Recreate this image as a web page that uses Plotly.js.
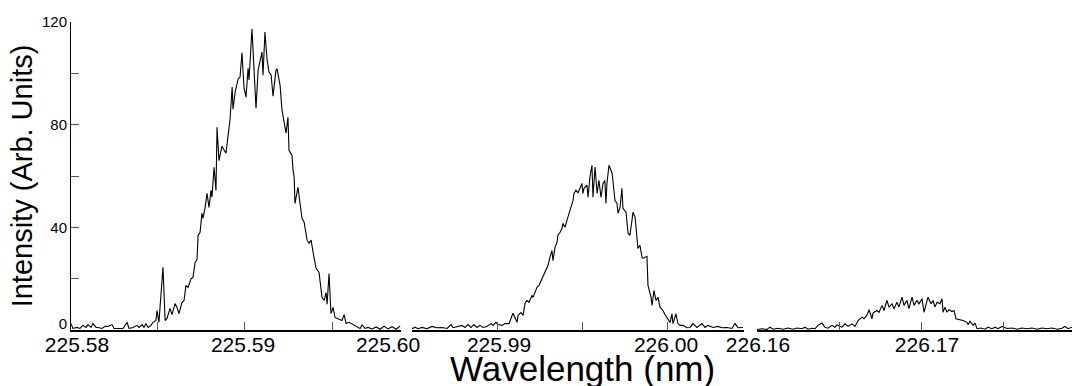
<!DOCTYPE html>
<html>
<head>
<meta charset="utf-8">
<script src="https://cdn.plot.ly/plotly-3.0.1.min.js"></script>
<style>html,body{margin:0;padding:0;background:#fff;}#chart{width:1073px;height:386px;}</style>
</head>
<body>
<div id="chart"></div>
<script>
// ---- Data (wavelength in nm, intensity in arb. units) ----
const wl1 = [225.58010,225.58021,225.58044,225.58061,225.58078,225.58096,225.58107,225.58124,225.58135,225.58153,
225.58164,225.58187,225.58204,225.58221,225.58244,225.58255,225.58278,225.58306,225.58329,225.58341,
225.58363,225.58386,225.58398,225.58415,225.58426,225.58437,225.58449,225.58466,225.58477,225.58494,
225.58500,225.58511,225.58534,225.58546,225.58557,225.58574,225.58585,225.58603,225.58614,225.58625,
225.58642,225.58654,225.58665,225.58677,225.58694,225.58705,225.58717,225.58728,225.58734,225.58745,
225.58756,225.58762,225.58774,225.58785,225.58796,225.58808,225.58813,225.58825,225.58836,225.58842,
225.58853,225.58870,225.58893,225.58905,225.58916,225.58928,225.58933,225.58945,225.58962,225.58973,
225.58984,225.58996,225.59007,225.59019,225.59024,225.59041,225.59064,225.59076,225.59098,225.59104,
225.59115,225.59127,225.59138,225.59150,225.59161,225.59178,225.59184,225.59201,225.59212,225.59235,
225.59246,225.59252,225.59269,225.59275,225.59281,225.59286,225.59303,225.59315,225.59326,225.59338,
225.59355,225.59366,225.59378,225.59389,225.59406,225.59423,225.59440,225.59452,225.59463,225.59469,
225.59480,225.59491,225.59503,225.59514,225.59531,225.59554,225.59566,225.59577,225.59594,225.59617,
225.59640,225.59657,225.59668,225.59685,225.59702,225.59725,225.59748,225.59771,225.59793,225.59816,
225.59839,225.59862,225.59885];
const int1 = [2.5,0.6,1.0,0.6,1.8,1.0,2.1,1.0,2.5,1.0,
1.0,0.6,1.4,1.4,2.1,0.6,0.6,0.6,3.0,0.6,
1.0,1.8,1.0,2.1,1.0,2.5,1.0,1.8,3.0,3.7,
7.6,3.0,24.4,3.7,4.5,8.4,6.0,10.3,8.8,6.4,
10.7,11.5,17.4,16.6,20.0,20.5,26.3,27.5,36.9,38.0,
45.5,43.5,47.8,53.3,47.8,54.4,51.7,63.4,54.4,79.0,
66.0,71.6,68.9,75.0,82.0,94.7,86.0,92.7,97.8,98.6,
108.0,94.2,90.7,102.0,97.4,117.3,86.4,101.3,108.3,99.3,
116.1,105.2,100.5,99.4,91.1,101.3,101.7,95.4,85.7,76.7,
82.9,70.0,68.0,62.3,59.9,49.3,55.6,49.3,43.5,42.0,
35.0,33.8,35.0,30.3,24.0,22.4,12.7,11.5,14.6,10.0,
22.0,6.4,8.8,4.9,4.5,3.7,6.0,2.5,3.0,2.2,
1.4,0.6,2.0,0.6,1.0,0.4,1.2,0.3,1.5,0.4,
1.3,0.3,1.6];

const wl2 = [225.98500,225.98518,225.98535,225.98559,225.98588,225.98617,225.98647,225.98676,225.98706,225.98729,
225.98741,225.98770,225.98794,225.98811,225.98829,225.98847,225.98864,225.98882,225.98899,225.98917,
225.98940,225.98964,225.98976,225.98993,225.99005,225.99029,225.99046,225.99070,225.99093,225.99117,
225.99123,225.99140,225.99152,225.99164,225.99175,225.99187,225.99205,225.99211,225.99234,225.99246,
225.99263,225.99275,225.99293,225.99299,225.99310,225.99322,225.99328,225.99340,225.99352,225.99357,
225.99369,225.99381,225.99387,225.99399,225.99410,225.99416,225.99428,225.99440,225.99446,225.99451,
225.99463,225.99475,225.99487,225.99498,225.99504,225.99510,225.99516,225.99528,225.99534,225.99545,
225.99557,225.99563,225.99575,225.99587,225.99598,225.99610,225.99622,225.99633,225.99639,225.99645,
225.99657,225.99675,225.99680,225.99692,225.99704,225.99710,225.99722,225.99733,225.99739,225.99757,
225.99769,225.99780,225.99792,225.99798,225.99810,225.99821,225.99827,225.99839,225.99851,225.99857,
225.99880,225.99886,225.99904,225.99910,225.99921,225.99933,225.99945,225.99957,225.99974,225.99986,
225.99998,226.00015,226.00027,226.00033,226.00050,226.00062,226.00074,226.00092,226.00115,226.00133,
226.00150,226.00174,226.00203,226.00221,226.00238,226.00268,226.00297,226.00321,226.00350,226.00379,
226.00397,226.00415,226.00444];
const int2 = [0.5,1.1,0.5,1.0,0.5,1.4,0.9,1.0,0.6,2.1,
0.9,1.4,1.8,1.0,2.1,1.0,2.1,1.0,1.8,1.0,
1.4,2.5,1.8,3.0,2.1,1.8,2.5,2.5,6.5,3.0,
5.7,6.8,5.7,10.4,11.5,10.8,13.5,12.7,16.6,17.4,
20.0,22.0,24.5,25.2,28.3,31.0,27.0,32.2,34.2,36.9,
38.0,39.6,41.5,40.0,42.7,44.0,46.6,48.6,50.5,53.2,
54.5,53.4,55.6,57.1,53.2,55.2,55.6,56.4,51.7,59.5,
64.2,51.7,63.5,53.2,58.3,51.7,57.1,58.3,49.3,57.1,
64.2,61.1,58.3,50.5,49.3,45.5,47.8,55.2,47.4,45.9,
37.7,36.9,42.7,45.9,44.0,35.0,31.8,33.0,28.3,27.9,
28.7,17.4,12.7,9.6,15.4,11.5,12.7,8.8,7.6,6.0,
4.9,2.9,6.3,2.5,6.3,2.5,1.8,1.8,0.9,1.0,
2.5,1.0,2.5,1.0,1.8,1.0,1.4,0.9,1.0,0.6,
2.5,0.9,1.0];

const wl3 = [226.16000,226.16030,226.16061,226.16079,226.16098,226.16128,226.16158,226.16189,226.16219,226.16244,
226.16274,226.16293,226.16311,226.16335,226.16354,226.16372,226.16396,226.16414,226.16433,226.16457,
226.16475,226.16488,226.16500,226.16518,226.16536,226.16555,226.16579,226.16597,226.16616,226.16640,
226.16652,226.16670,226.16683,226.16701,226.16707,226.16731,226.16744,226.16762,226.16774,226.16792,
226.16805,226.16823,226.16835,226.16853,226.16865,226.16884,226.16896,226.16914,226.16926,226.16945,
226.16957,226.16975,226.16987,226.17006,226.17018,226.17030,226.17042,226.17061,226.17073,226.17085,
226.17097,226.17115,226.17128,226.17134,226.17146,226.17158,226.17170,226.17189,226.17201,226.17213,
226.17237,226.17256,226.17280,226.17286,226.17298,226.17317,226.17329,226.17341,226.17365,226.17390,
226.17408,226.17432,226.17451,226.17469,226.17493,226.17524,226.17554,226.17585,226.17615,226.17646,
226.17676,226.17707,226.17737,226.17768,226.17798,226.17829,226.17859,226.17877,226.17896,226.17920];
const int3 = [0.2,0.5,0.2,1.1,0.3,0.7,0.3,0.8,0.3,0.8,
0.5,1.1,0.3,0.7,0.5,1.8,2.7,1.1,0.7,1.8,
1.1,2.1,1.6,1.1,2.4,1.4,2.4,1.4,3.7,5.0,
4.4,5.7,7.9,4.4,6.6,7.6,6.9,9.6,7.6,11.5,
8.9,10.2,8.3,10.8,8.9,12.8,9.6,11.5,8.3,12.8,
9.6,11.5,10.2,12.2,6.9,10.2,12.8,10.2,11.5,8.9,
10.8,10.2,12.2,6.9,8.9,6.9,7.9,7.2,7.6,4.4,
4.0,3.7,3.0,2.1,3.4,1.8,2.7,0.5,0.8,0.3,
1.1,0.5,1.1,0.5,1.4,0.6,0.8,0.3,0.8,0.5,
0.8,0.3,0.8,0.5,0.8,0.3,0.7,1.4,0.5,1.1];

// ---- Axis ranges, tick labels and tick marks ----
const range1 = [225.5801, 225.5989];
const range2 = [225.985, 226.0045];
const range3 = [226.16, 226.1792];
const labelPos1 = [225.58044, 225.58990, 225.59816];
const labelTxt1 = ["225.58", "225.59", "225.60"];
const labelPos2 = [225.99011, 225.99992];
const labelTxt2 = ["225.99", "226.00"];
const labelPos3 = [226.16006, 226.17036];
const labelTxt3 = ["226.16", "226.17"];
const marks1 = [225.585, 225.59, 225.595];
const marks2 = [225.985, 225.99, 225.995, 226.00];
const marks3 = [226.16, 226.165, 226.17, 226.175];
const yLabelPos = [2.4, 40, 80, 120];
const yLabelTxt = ["0", "40", "80", "120"];
const yMarks = [0, 20, 39.999, 60, 79.999, 100, 119.999];
const xTitle = "Wavelength (nm)";
const yTitle = "Intensity (Arb. Units)";

const FONT = '"Liberation Sans", Arial, Helvetica, sans-serif';

function line(x, y, xa) {
  return {x: x, y: y, xaxis: xa, yaxis: 'y', type: 'scatter', mode: 'lines',
          line: {color: '#000', width: 1.1}, hoverinfo: 'skip'};
}

function xAxis(domain, range, lp, lt, marks) {
  return {
    domain: domain, range: range, anchor: 'y', autorange: false,
    showline: true, linecolor: '#000', linewidth: 2,
    showgrid: false, zeroline: false,
    tickmode: 'array', tickvals: lp, ticktext: lt,
    ticks: 'inside', ticklen: 0, tickwidth: 0,
    ticklabelstandoff: -5,
    tickfont: {size: 21, family: FONT, color: '#000'},
    minor: {tickmode: 'array', tickvals: marks, ticks: 'inside', ticklen: 8,
            tickwidth: 1, tickcolor: '#555', showgrid: false}
  };
}

const layout = {
  width: 1073, height: 386,
  margin: {l: 71, r: 1, t: 22, b: 56, pad: 0},
  paper_bgcolor: '#fff', plot_bgcolor: '#fff',
  showlegend: false,
  font: {family: FONT, color: '#000'},
  xaxis: xAxis([0, 0.32967], range1, labelPos1, labelTxt1, marks1),
  xaxis2: xAxis([0.34066, 0.67233], range2, labelPos2, labelTxt2, marks2),
  xaxis3: xAxis([0.68531, 1], range3, labelPos3, labelTxt3, marks3),
  yaxis: {
    domain: [0, 1], range: [0, 120], autorange: false, anchor: 'x',
    showline: true, linecolor: '#000', linewidth: 1,
    showgrid: false, zeroline: false,
    tickmode: 'array', tickvals: yLabelPos, ticktext: yLabelTxt,
    ticks: 'inside', ticklen: 0, tickwidth: 0,
    minor: {tickmode: 'array', tickvals: yMarks, ticks: 'inside', ticklen: 8,
            tickwidth: 1, tickcolor: '#555', showgrid: false},
    tickfont: {size: 15, family: FONT, color: '#000'},
    title: {text: yTitle, font: {size: 29, family: FONT, color: '#000'}, standoff: 0}
  },
  annotations: [{
    text: xTitle, xref: 'paper', yref: 'paper',
    x: 0.5107, y: -0.1266, xanchor: 'center', yanchor: 'middle',
    showarrow: false, font: {size: 35, family: FONT, color: '#000'}
  }]
};

Plotly.newPlot('chart', [line(wl1, int1, 'x'), line(wl2, int2, 'x2'), line(wl3, int3, 'x3')],
  layout, {displayModeBar: false, staticPlot: true});
</script>
</body>
</html>
